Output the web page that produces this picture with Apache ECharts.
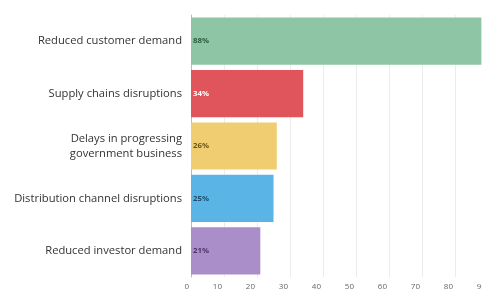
<!DOCTYPE html>
<html>
<head>
<meta charset="utf-8">
<script src="https://cdn.jsdelivr.net/npm/echarts@6/dist/echarts.min.js"></script>
<style>
  html, body { margin: 0; padding: 0; background: #fff; }
  #main { width: 482px; height: 291px; }
</style>
</head>
<body>
<div id="main"></div>
<script>
const categories = [
  'Reduced customer demand',
  'Supply chains disruptions',
  'Delays in progressing\ngovernment business',
  'Distribution channel disruptions',
  'Reduced investor demand'
]
const values = [88, 34, 26, 25, 21]
const barColors = ['#8dc5a5', '#e0545b', '#f0cd70', '#5bb4e6', '#a98ec9']
const labelColors = ['#2e5a3f', '#ffffff', '#6b5418', '#1d4c6b', '#4a3566']
const xTicks = [0, 10, 20, 30, 40, 50, 60, 70, 80, 90]

const chart = echarts.init(document.getElementById('main'))
chart.setOption({
  animation: false,
  grid: {
    left: 191, width: 297, top: 15, bottom: 14,
    containLabel: false, outerBoundsMode: 'none'
  },
  xAxis: {
    type: 'value',
    min: xTicks[0],
    max: xTicks[xTicks.length - 1],
    interval: 10,
    axisLine: { show: false },
    axisTick: { show: false },
    splitLine: { lineStyle: { color: '#ececec', width: 1 } },
    axisLabel: {
      color: '#666',
      fontSize: 8,
      margin: 6,
      align: 'right',
      padding: [0, 2, 0, 0],
      fontFamily: 'Open Sans'
    }
  },
  yAxis: {
    type: 'category',
    inverse: true,
    data: categories,
    axisLine: { show: true, lineStyle: { color: '#bbb' } },
    axisTick: { show: false },
    axisLabel: {
      color: '#333',
      fontSize: 11.2,
      margin: 9,
      lineHeight: 15,
      fontFamily: 'Open Sans'
    }
  },
  series: [{
    type: 'bar',
    barCategoryGap: '10%',
    data: values.map((v, i) => ({
      value: v,
      itemStyle: { color: barColors[i] },
      label: { color: labelColors[i] }
    })),
    label: {
      show: true,
      position: 'insideLeft',
      distance: 2,
      fontSize: 7.8,
      fontWeight: 'bold',
      fontFamily: 'Open Sans',
      formatter: p => p.value + '%'
    }
  }]
})
</script>
</body>
</html>
